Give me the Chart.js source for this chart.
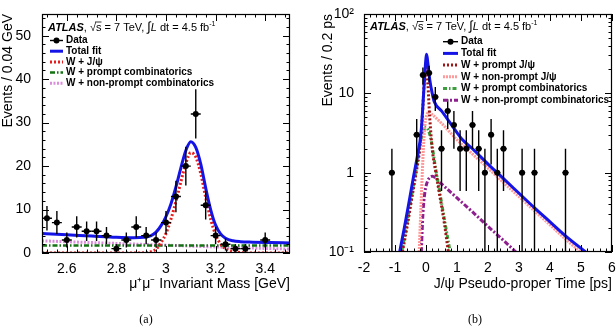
<!DOCTYPE html>
<html lang="en">
<head>
<meta charset="UTF-8">
<title>W + J/psi mass and pseudo-proper time fits</title>
<script src="https://cdn.jsdelivr.net/npm/chart.js@4.4.0"></script>
<style>
  body { margin: 0; background: #fff; }
  canvas { position: absolute; top: 0; }
</style>
</head>
<body>
<canvas id="massChart" width="308" height="335" style="left:0"></canvas>
<canvas id="timeChart" width="308" height="335" style="left:308px"></canvas>
<script>
// ---------- panel (a): mu+mu- invariant mass ----------
const massBins   = [2.52, 2.56, 2.60, 2.64, 2.68, 2.72, 2.76, 2.80, 2.84, 2.88, 2.92, 2.96, 3.00, 3.04, 3.08, 3.12, 3.16, 3.20, 3.24, 3.28, 3.32, 3.40];
const massCounts = [8, 7, 3, 6, 5, 5, 4, 1, 3, 6, 4, 3, 7, 13, 20, 32, 11, 4, 2, 1, 1, 3];

const massFitX  = [2.50, 2.60, 2.70, 2.80, 2.87, 2.91, 2.94, 2.96, 2.98, 3.00, 3.02, 3.04, 3.06, 3.08, 3.10, 3.12, 3.14, 3.16, 3.18, 3.20, 3.22, 3.24, 3.27, 3.30, 3.35, 3.42, 3.50];
const massTotal = [4.5, 4.2, 3.9, 3.6, 3.5, 3.6, 4.0, 4.8, 6.3, 8.4, 11.3, 15.2, 19.6, 23.6, 25.6, 24.3, 20.5, 15.0, 10.0, 6.4, 4.4, 3.4, 2.8, 2.6, 2.5, 2.4, 2.3];
const massJpsi  = [0, 0, 0, 0, 0, 0.05, 0.3, 0.9, 2.4, 4.5, 7.8, 11.9, 16.4, 20.6, 23.1, 22.1, 18.3, 12.8, 7.8, 4.2, 2.1, 1.0, 0.35, 0.1, 0, 0, 0];

const massCombX         = [2.50, 2.75, 3.00, 3.25, 3.50];
const massPromptComb    = [1.7, 1.7, 1.7, 1.7, 1.7];
const massNonPromptComb = [2.8, 2.3, 1.8, 1.3, 0.9];

const massXTicks  = [2.6, 2.8, 3.0, 3.2, 3.4];
const massXLabels = ['2.6', '2.8', '3', '3.2', '3.4'];
const massYTicks  = [0, 10, 20, 30, 40, 50];
const massLegend  = ['Data', 'Total fit', 'W + J/\u03c8', 'W + prompt combinatorics', 'W + non-prompt combinatorics'];

// ---------- panel (b): J/psi pseudo-proper time ----------
const timeBins   = [-1.1, -0.3, -0.1, 0.1, 0.3, 0.5, 0.7, 0.9, 1.1, 1.3, 1.5, 1.7, 1.9, 2.1, 2.3, 2.5, 3.1, 3.5, 4.5];
const timeCounts = [1, 3, 17, 18, 9, 2, 6, 4, 2, 2, 4, 2, 1, 3, 1, 2, 1, 1, 1];

const totalT = [-0.85, -0.7, -0.55, -0.4, -0.28, -0.16, -0.1, -0.05, 0.0, 0.02, 0.06, 0.12, 0.2, 0.27, 0.5, 0.75, 1.0, 1.14, 1.5, 2.0, 2.5, 3.0, 3.5, 4.0, 4.5, 5.15];
const totalV = [0.1, 0.2, 0.42, 0.9, 1.6, 3.2, 7, 15, 28, 31, 24, 15, 10, 7.8, 6.0, 4.4, 3.2, 2.7, 2.0, 1.28, 0.84, 0.55, 0.36, 0.24, 0.16, 0.1];

const promptT = [-0.76, -0.6, -0.45, -0.3, -0.2, -0.12, -0.06, 0.0, 0.06, 0.12, 0.2, 0.3, 0.45, 0.6, 0.72];
const promptV = [0.1, 0.22, 0.5, 1.1, 2.0, 5, 13, 22, 13, 5, 2.0, 1.1, 0.5, 0.22, 0.1];

const nonPromptT = [-0.22, -0.16, -0.1, -0.04, 0.04, 0.1, 0.2, 0.5, 1.0, 1.5, 2.0, 2.5, 3.0, 3.5, 4.0, 4.5, 5.0];
const nonPromptV = [0.1, 0.4, 1.5, 3.8, 5.5, 5.8, 5.4, 4.2, 2.6, 1.72, 1.14, 0.75, 0.5, 0.33, 0.22, 0.145, 0.1];

const promptCombT = [-0.78, -0.6, -0.45, -0.3, -0.17, -0.08, 0.0, 0.08, 0.17, 0.3, 0.45, 0.6, 0.78];
const promptCombV = [0.1, 0.25, 0.55, 1.2, 2.5, 3.4, 3.7, 3.4, 2.5, 1.2, 0.55, 0.25, 0.1];

const nonPromptCombT = [-0.15, -0.1, -0.04, 0.05, 0.2, 0.5, 1.0, 1.5, 2.0, 2.5, 2.9];
const nonPromptCombV = [0.1, 0.3, 0.55, 0.78, 0.9, 0.72, 0.48, 0.32, 0.21, 0.14, 0.1];

const timeXTicks  = [-2, -1, 0, 1, 2, 3, 4, 5, 6];
const timeYTicks  = [0.1, 1, 10, 100];
const timeYLabels = ['10\u207b\u00b9', '1', '10', '10\u00b2'];
const timeLegend  = ['Data', 'Total fit', 'W + prompt J/\u03c8', 'W + non-prompt J/\u03c8', 'W + prompt combinatorics', 'W + non-prompt combinatorics'];

const FONT = '"Liberation Sans", Arial, sans-serif';

function curve(xs, ys, color, width, dash) {
  return {
    type: 'line',
    data: xs.map((x, i) => ({ x: x, y: ys[i] })),
    borderColor: color, borderWidth: width, borderDash: dash,
    pointRadius: 0, fill: false, cubicInterpolationMode: 'monotone'
  };
}

function points(xs, ys) {
  return {
    type: 'line', showLine: false,
    data: xs.map((x, i) => ({ x: x, y: ys[i] })),
    pointRadius: 3, pointBackgroundColor: '#000', pointBorderColor: '#000', pointBorderWidth: 0
  };
}

// draws "ATLAS, sqrt(s) = 7 TeV, int L dt = 4.5 fb-1"
function atlasLabel(ctx, x, y) {
  ctx.textAlign = 'left';
  ctx.textBaseline = 'alphabetic';
  ctx.fillStyle = '#000';
  ctx.strokeStyle = '#000';
  ctx.font = 'italic bold 11px ' + FONT;
  ctx.fillText('ATLAS', x, y);
  x += ctx.measureText('ATLAS').width;
  ctx.font = '11px ' + FONT;
  const run = (t) => { ctx.fillText(t, x, y); x += ctx.measureText(t).width; };
  run(', \u221a');
  const sx = x;
  run('s');
  ctx.lineWidth = 0.8;
  ctx.beginPath(); ctx.moveTo(sx - 1, y - 8.5); ctx.lineTo(x, y - 8.5); ctx.stroke();
  run(' = 7 TeV, ');
  ctx.font = '13px ' + FONT;
  run('\u222b');
  ctx.font = 'italic 11px ' + FONT;
  run('L');
  ctx.font = '11px ' + FONT;
  run(' dt = 4.5 fb');
  ctx.font = '7px ' + FONT;
  ctx.fillText('-1', x, y - 5);
}

const decor = {
  id: 'decor',
  afterDatasetsDraw(chart, args, o) {
    const { ctx, chartArea: a, scales: { x, y } } = chart;
    ctx.save();
    ctx.beginPath(); ctx.rect(a.left, a.top, a.right - a.left, a.bottom - a.top); ctx.clip();
    ctx.strokeStyle = '#000';
    ctx.lineWidth = 1.4;
    o.bins.forEach((b, i) => {
      const n = o.counts[i], e = Math.sqrt(n);
      const px = x.getPixelForValue(b), py = y.getPixelForValue(n);
      const lo = y.getPixelForValue(Math.max(n - e, y.min));
      const hi = y.getPixelForValue(n + e);
      ctx.beginPath();
      ctx.moveTo(px, lo); ctx.lineTo(px, hi);
      ctx.moveTo(x.getPixelForValue(b - o.half), py); ctx.lineTo(x.getPixelForValue(b + o.half), py);
      ctx.stroke();
    });
    ctx.restore();
  },
  afterDraw(chart, args, o) {
    const { ctx, chartArea: a, scales: { x, y } } = chart;
    ctx.save();
    ctx.strokeStyle = '#000';
    ctx.lineWidth = 1.2;
    ctx.strokeRect(a.left + 0.5, a.top + 0.5, a.right - a.left - 1, a.bottom - a.top - 1);
    ctx.lineWidth = 1;
    ctx.beginPath();
    const xt = (vals, len) => vals.forEach(v => {
      const p = Math.round(x.getPixelForValue(v)) + 0.5;
      ctx.moveTo(p, a.bottom); ctx.lineTo(p, a.bottom - len);
      ctx.moveTo(p, a.top); ctx.lineTo(p, a.top + len);
    });
    const yt = (vals, len) => vals.forEach(v => {
      const p = Math.round(y.getPixelForValue(v)) + 0.5;
      ctx.moveTo(a.left, p); ctx.lineTo(a.left + len, p);
      ctx.moveTo(a.right, p); ctx.lineTo(a.right - len, p);
    });
    xt(o.xMajor, 7); xt(o.xMinor, 3.5);
    yt(o.yMajor, 7); yt(o.yMinor, 3.5);
    ctx.stroke();

    atlasLabel(ctx, o.atlas[0], o.atlas[1]);

    // legend
    const L = o.legend;
    ctx.font = 'bold 10px ' + FONT;
    ctx.textBaseline = 'middle';
    L.labels.forEach((label, i) => {
      const ds = chart.data.datasets[i];
      const ly = L.y + i * L.dy;
      ctx.save();
      if (i === 0) {
        ctx.strokeStyle = '#000'; ctx.lineWidth = 1.4;
        ctx.beginPath(); ctx.moveTo(L.x, ly); ctx.lineTo(L.x + L.w, ly); ctx.stroke();
        ctx.fillStyle = '#000';
        ctx.beginPath(); ctx.arc(L.x + L.w / 2, ly, 3, 0, Math.PI * 2); ctx.fill();
      } else {
        ctx.strokeStyle = ds.borderColor; ctx.lineWidth = ds.borderWidth;
        ctx.setLineDash(ds.borderDash || []);
        ctx.beginPath(); ctx.moveTo(L.x, ly); ctx.lineTo(L.x + L.w, ly); ctx.stroke();
      }
      ctx.restore();
      ctx.fillStyle = '#000';
      ctx.fillText(label, L.x + L.w + 3, ly);
    });

    ctx.font = '12px "Liberation Serif", serif';
    ctx.textAlign = 'center';
    ctx.textBaseline = 'middle';
    ctx.fillText(o.caption[0], o.caption[1], o.caption[2]);
    ctx.restore();
  }
};

function minorRange(from, to, step) {
  const out = [];
  for (let v = from; v <= to + 1e-9; v += step) out.push(+v.toFixed(4));
  return out;
}

function baseOptions(xCfg, yCfg, padding, decorCfg) {
  return {
    responsive: false, animation: false, events: [],
    layout: { padding: padding },
    plugins: { legend: { display: false }, tooltip: { enabled: false }, decor: decorCfg },
    scales: { x: xCfg, y: yCfg }
  };
}

// ---- chart (a)
new Chart(document.getElementById('massChart'), {
  type: 'line',
  data: {
    datasets: [
      points(massBins, massCounts),
      curve(massFitX, massTotal, '#1414e6', 3, []),
      curve(massFitX, massJpsi, '#e81c1c', 3, [2, 2]),
      curve(massCombX, massPromptComb, '#137313', 2.5, [5, 2, 1.5, 2]),
      curve(massCombX, massNonPromptComb, '#dc8cdc', 3, [2, 1.5])
    ]
  },
  plugins: [decor],
  options: baseOptions(
    {
      type: 'linear', min: 2.5, max: 3.5,
      grid: { display: false }, border: { display: false },
      afterBuildTicks: s => { s.ticks = massXTicks.map(v => ({ value: v })); },
      afterFit: s => { s.height = 82; s.paddingLeft = 0; s.paddingRight = 0; },
      ticks: { padding: 0, color: '#000', font: { family: FONT, size: 14 },
               callback: (v) => massXLabels[massXTicks.indexOf(+v.toFixed(2))] },
      title: { display: true, text: '\u03bc\u207a\u03bc\u207b Invariant Mass [GeV]', align: 'end', color: '#000',
               font: { family: FONT, size: 14 }, padding: { top: 0, bottom: 42 } }
    },
    {
      type: 'linear', min: 0, max: 55,
      grid: { display: false }, border: { display: false },
      afterBuildTicks: s => { s.ticks = massYTicks.map(v => ({ value: v })); },
      afterFit: s => { s.width = 42; s.paddingTop = 0; s.paddingBottom = 0; },
      ticks: { padding: 3, color: '#000', font: { family: FONT, size: 14 } },
      title: { display: true, text: 'Events / 0.04 GeV', align: 'end', color: '#000',
               font: { family: FONT, size: 14 }, padding: { top: 0, bottom: 0 } }
    },
    { left: 0, top: 14, right: 18, bottom: 0 },
    {
      bins: massBins, counts: massCounts, half: 0.02,
      xMajor: massXTicks, xMinor: minorRange(2.52, 3.48, 0.04),
      yMajor: massYTicks, yMinor: minorRange(2, 54, 2),
      atlas: [48, 30.5],
      legend: { labels: massLegend, x: 50, y: 40.5, dy: 10.7, w: 13 },
      caption: ['(a)', 146, 320]
    }
  )
});

// ---- chart (b)
const logMinor = [0.2, 0.3, 0.4, 0.5, 0.6, 0.7, 0.8, 0.9, 2, 3, 4, 5, 6, 7, 8, 9, 20, 30, 40, 50, 60, 70, 80, 90];
new Chart(document.getElementById('timeChart'), {
  type: 'line',
  data: {
    datasets: [
      points(timeBins, timeCounts),
      curve(totalT, totalV, '#1414e6', 3, []),
      curve(promptT, promptV, '#a01414', 3, [2, 2]),
      curve(nonPromptT, nonPromptV, '#ff9a9a', 3, [2, 1]),
      curve(promptCombT, promptCombV, '#3d9e3d', 3, [4, 2, 1.5, 2]),
      curve(nonPromptCombT, nonPromptCombV, '#8e1f8e', 3, [5, 2, 2, 2])
    ]
  },
  plugins: [decor],
  options: baseOptions(
    {
      type: 'linear', min: -2, max: 6,
      grid: { display: false }, border: { display: false },
      afterBuildTicks: s => { s.ticks = timeXTicks.map(v => ({ value: v })); },
      afterFit: s => { s.height = 83; s.paddingLeft = 0; s.paddingRight = 0; },
      ticks: { padding: 0, color: '#000', font: { family: FONT, size: 14 } },
      title: { display: true, text: 'J/\u03c8 Pseudo-proper Time [ps]', align: 'end', color: '#000',
               font: { family: FONT, size: 14 }, padding: { top: 0, bottom: 42 } }
    },
    {
      type: 'logarithmic', min: 0.1, max: 100,
      grid: { display: false }, border: { display: false },
      afterBuildTicks: s => { s.ticks = timeYTicks.map(v => ({ value: v })); },
      afterFit: s => { s.width = 56; s.paddingTop = 0; s.paddingBottom = 0; },
      ticks: { padding: 2, color: '#000', font: { family: FONT, size: 14 },
               callback: (v) => timeYLabels[timeYTicks.indexOf(v)] },
      title: { display: true, text: 'Events / 0.2 ps', align: 'end', color: '#000',
               font: { family: FONT, size: 14 }, padding: { top: 12, bottom: 0 } }
    },
    { left: 0, top: 14, right: 3, bottom: 0 },
    {
      bins: timeBins, counts: timeCounts, half: 0.1,
      xMajor: timeXTicks, xMinor: minorRange(-1.8, 5.8, 0.2),
      yMajor: timeYTicks, yMinor: logMinor,
      atlas: [62, 30],
      legend: { labels: timeLegend, x: 135, y: 41.7, dy: 11.7, w: 15 },
      caption: ['(b)', 167, 320]
    }
  )
});
</script>
</body>
</html>
